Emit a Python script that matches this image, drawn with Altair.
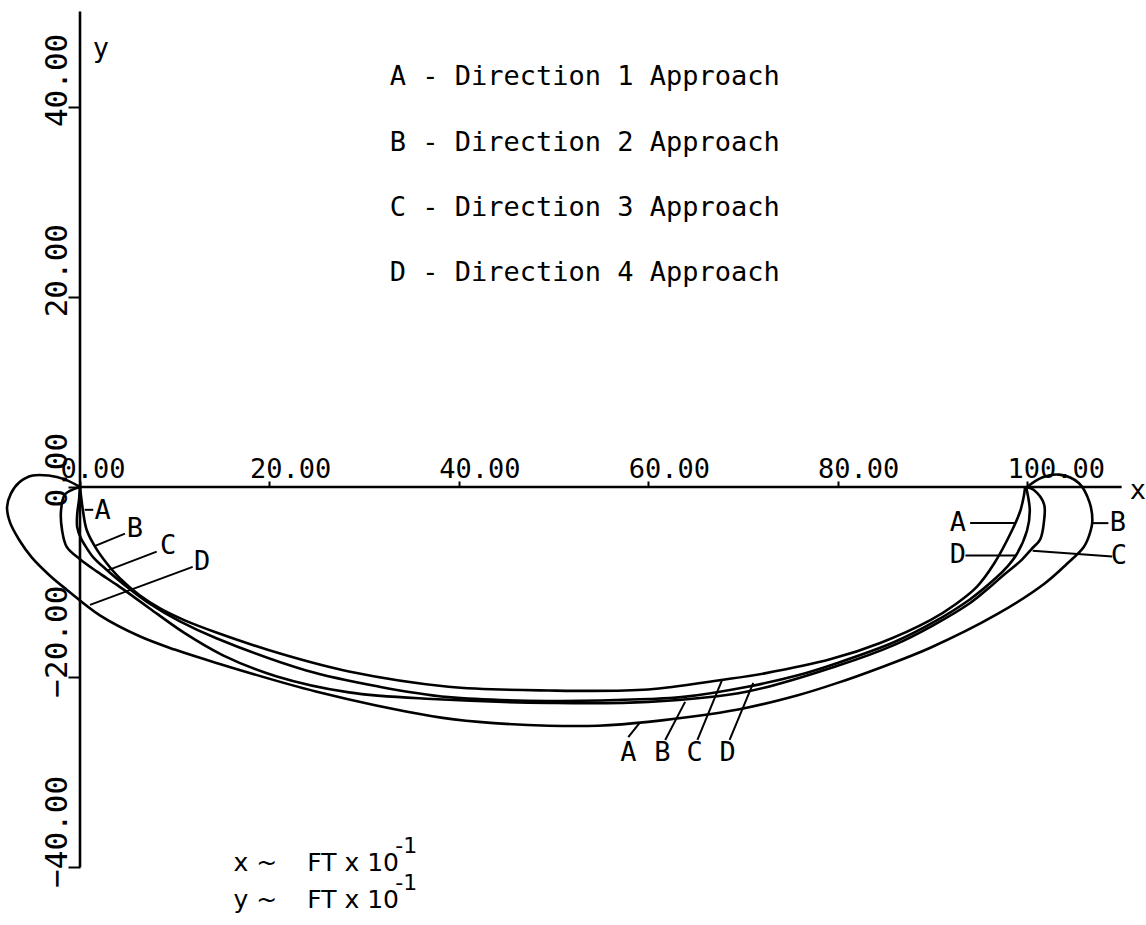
import altair as alt
import pandas as pd

# ---- trajectories (x, y in FT x 10^-1) ----
a_x = [0, 0.3, 0.7, 1.6, 2.8, 4.2, 6.3, 8.5, 11.0, 14.4, 21.4, 28.4, 38.9, 49.5, 60.0,
       67.7, 72.3, 79.3, 84.5, 89.8, 92.5, 94.7, 96.5, 98.4, 99.3, 99.7, 99.8]
a_y = [0, -2.4, -4.5, -6.3, -8.0, -9.6, -11.4, -12.8, -14.0, -15.3, -17.6, -19.4, -21.0, -21.4, -21.3,
       -20.3, -19.6, -18.1, -16.4, -14.0, -12.3, -10.5, -8.1, -4.6, -2.5, -0.8, 0]

b_x = [0, -0.1, -0.3, -0.3, 0.1, 0.5, 1.4, 2.8, 4.7, 7.4, 10.5, 14.4, 23.9, 31.6, 38.9, 49.5,
       60.0, 63.5, 70.5, 75.8, 80.0, 86.0, 90.0, 94.0, 96.8, 97.9, 98.9, 100.0, 100.3, 100.0, 99.9]
b_y = [0, -1.3, -2.9, -4.2, -5.4, -6.1, -7.4, -8.7, -10.3, -12.3, -14.1, -15.9, -19.3, -21.0, -22.1, -22.5,
       -22.3, -22.1, -21.0, -19.8, -18.5, -16.3, -14.3, -11.8, -9.5, -8.4, -7.1, -4.6, -2.5, -0.4, 0]

c_x = [0, -0.6, -1.6, -2.0, -1.9, -1.4, 0, 1.8, 3.9, 5.6, 7.4, 11.1, 15.1, 20.7, 28.4, 37.2,
       49.5, 60.0, 70.5, 80.0, 86.0, 90.0, 94.0, 96.0, 97.6, 99.3, 100.5, 101.4, 101.8, 101.8,
       100.7, 100.0]
c_y = [0, -0.2, -0.8, -2.4, -4.5, -6.3, -7.6, -8.9, -10.3, -11.5, -12.8, -15.4, -17.7, -19.9, -21.6, -22.3,
       -22.7, -22.6, -21.5, -18.8, -16.6, -14.6, -12.2, -10.6, -9.2, -7.8, -6.5, -5.5, -3.6, -1.8,
       -0.3, 0]

d_x = [0, -1.6, -3.3, -5.0, -6.4, -7.3, -7.7, -7.4, -6.4, -5.1, -3.2, -1.4, 2.1, 6.3, 10.0, 14.4,
       24.9, 37.2, 42.1, 49.5, 54.7, 60.0, 69.5, 75.8, 80.0, 84.5, 89.8, 96.8, 101.8, 104.2, 106.0,
       106.6, 106.9, 106.6, 105.5, 103.4, 101.6, 100.0]
d_y = [0, 0.8, 1.2, 1.2, 0.5, -0.7, -2.1, -3.7, -5.6, -7.4, -9.3, -10.8, -13.5, -15.7, -17.1, -18.5,
       -21.5, -24.1, -24.7, -25.1, -25.1, -24.7, -23.4, -21.9, -20.6, -19.0, -16.9, -13.4, -10.2, -8.1, -6.3,
       -5.0, -3.6, -1.6, 0.4, 1.3, 1.0, 0]

# ---- curve labels and their leader lines ----
lab_text = ["A", "B", "C", "D", "A", "D", "B", "C", "A", "B", "C", "D"]
lab_x = [2.4, 5.8, 9.3, 12.9, 92.7, 92.7, 109.6, 109.7, 57.9, 61.5, 64.9, 68.4]
lab_y = [-2.5, -4.4, -6.2, -7.9, -3.8, -7.2, -3.8, -7.3, -28.0, -28.0, -28.0, -28.0]

lead_x1 = [0.5, 1.6, 2.85, 1.05, 94.0, 93.5, 106.9, 109.0, 57.9, 61.8, 65.2, 68.6]
lead_y1 = [-2.4, -6.2, -8.8, -12.4, -3.8, -7.2, -3.8, -7.3, -26.3, -26.6, -26.6, -26.6]
lead_x2 = [1.4, 4.75, 8.1, 11.9, 98.7, 98.8, 108.6, 100.6, 59.1, 63.9, 67.8, 71.1]
lead_y2 = [-2.4, -4.9, -6.8, -8.4, -3.8, -7.2, -3.8, -6.7, -24.8, -22.6, -20.3, -20.6]

# ---- key ----
key_lines = ["A - Direction 1 Approach", "B - Direction 2 Approach",
             "C - Direction 3 Approach", "D - Direction 4 Approach"]
key_y = [43.1, 36.2, 29.3, 22.5]
key_x = 32.7

# ---- units ----
unit_text = ["x ~", "FT x 10", "y ~", "FT x 10"]
unit_x = [16.2, 24.0, 16.2, 24.0]
unit_y = [-40.4, -40.4, -44.3, -44.3]
sup_text = ["-1", "-1"]
sup_x = [33.3, 33.3]
sup_y = [-38.5, -42.4]

x_ticks = [0, 20, 40, 60, 80, 100]
y_ticks = [-40, -20, 0, 20, 40]

W, H = 1146, 925
X_DOM = [-8.448, 112.57]
Y_DOM = [-46.06, 51.21]
MONO = "DejaVu Sans Mono"
SANS = "DejaVu Sans"

x_zero_px = W * (0 - X_DOM[0]) / (X_DOM[1] - X_DOM[0])
y_zero_px = H * (Y_DOM[1] - 0) / (Y_DOM[1] - Y_DOM[0])

frames = []
for name, xs_, ys_ in [("A", a_x, a_y), ("B", b_x, b_y), ("C", c_x, c_y), ("D", d_x, d_y)]:
    frames.append(pd.DataFrame({"x": xs_, "y": ys_, "dir": name, "k": range(len(xs_))}))
curves = pd.concat(frames, ignore_index=True)

xs = alt.Scale(domain=X_DOM, nice=False, zero=False)
ys = alt.Scale(domain=Y_DOM, nice=False, zero=False)

x_axis = alt.Axis(orient="top", offset=-y_zero_px, values=x_ticks, format=".2f",
                  domain=False, grid=False, tickSize=6, tickWidth=2, tickColor="black",
                  labelFont=MONO, labelFontSize=27, labelColor="black",
                  labelAlign="left", labelBaseline="alphabetic", labelOffset=-20,
                  labelPadding=3, labelFlush=False, labelOverlap=False, title=None)
y_axis = alt.Axis(orient="left", offset=-x_zero_px, values=y_ticks, format=".2f",
                  domain=False, grid=False, tickSize=12, tickWidth=2, tickColor="black",
                  labelFont=MONO, labelFontSize=31, labelColor="black",
                  labelAngle=270, labelAlign="left", labelBaseline="alphabetic",
                  labelOffset=20, labelPadding=1, labelFlush=False, labelOverlap=False,
                  title=None)

lines = alt.Chart(curves).mark_line(
    interpolate="catmull-rom", color="black", strokeWidth=2.6
).encode(
    x=alt.X("x:Q", scale=xs, axis=x_axis),
    y=alt.Y("y:Q", scale=ys, axis=y_axis),
    detail="dir:N",
    order="k:Q",
)

axes_df = pd.DataFrame({"x": [0, 0], "y": [0, -40], "x2": [110, 0], "y2": [0, 50]})
axis_lines = alt.Chart(axes_df).mark_rule(color="black", strokeWidth=2.6).encode(
    x=alt.X("x:Q", scale=xs), y=alt.Y("y:Q", scale=ys), x2="x2:Q", y2="y2:Q"
)

lead_df = pd.DataFrame({"x": lead_x1, "y": lead_y1, "x2": lead_x2, "y2": lead_y2})
leaders = alt.Chart(lead_df).mark_rule(color="black", strokeWidth=2).encode(
    x=alt.X("x:Q", scale=xs), y=alt.Y("y:Q", scale=ys), x2="x2:Q", y2="y2:Q"
)

lab_df = pd.DataFrame({"t": lab_text, "x": lab_x, "y": lab_y})
labels = alt.Chart(lab_df).mark_text(
    font=MONO, fontSize=27, color="black", align="center", baseline="middle"
).encode(x=alt.X("x:Q", scale=xs), y=alt.Y("y:Q", scale=ys), text="t:N")

key_df = pd.DataFrame({"t": key_lines, "x": key_x, "y": key_y})
key = alt.Chart(key_df).mark_text(
    font=MONO, fontSize=27, color="black", align="left", baseline="middle"
).encode(x=alt.X("x:Q", scale=xs), y=alt.Y("y:Q", scale=ys), text="t:N")

ax_names = pd.DataFrame({"t": ["x", "y"], "x": [111.7, 2.2], "y": [-0.4, 46.1]})
names = alt.Chart(ax_names).mark_text(
    font=MONO, fontSize=27, color="black", align="center", baseline="middle"
).encode(x=alt.X("x:Q", scale=xs), y=alt.Y("y:Q", scale=ys), text="t:N")

unit_df = pd.DataFrame({"t": unit_text, "x": unit_x, "y": unit_y})
units = alt.Chart(unit_df).mark_text(
    font=SANS, fontSize=25, color="black", align="left", baseline="alphabetic"
).encode(x=alt.X("x:Q", scale=xs), y=alt.Y("y:Q", scale=ys), text="t:N")

sup_df = pd.DataFrame({"t": sup_text, "x": sup_x, "y": sup_y})
sups = alt.Chart(sup_df).mark_text(
    font=SANS, fontSize=22, color="black", align="left", baseline="alphabetic"
).encode(x=alt.X("x:Q", scale=xs), y=alt.Y("y:Q", scale=ys), text="t:N")

chart = alt.layer(lines, axis_lines, leaders, labels, key, names, units, sups).properties(
    width=W, height=H, padding=0,
    autosize=alt.AutoSizeParams(type="none"),
    background="white",
).configure_view(stroke=None)

chart.save("out.html", embed_options={"renderer": "svg", "actions": False})
